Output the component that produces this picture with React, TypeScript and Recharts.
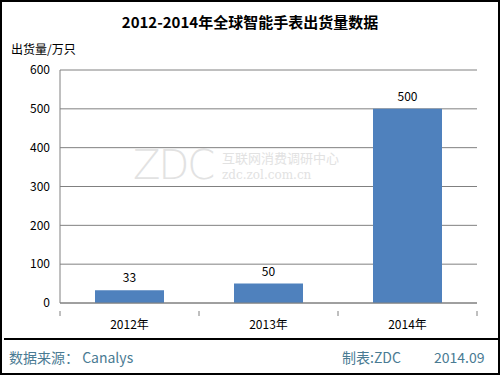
import { Bar, BarChart, CartesianGrid, LabelList, XAxis, YAxis } from 'recharts'

const years = ['2012年', '2013年', '2014年']
const shipments = [33, 50, 500]
const yTicks = [0, 100, 200, 300, 400, 500, 600]

const chartData = years.map((year, i) => ({ year, value: shipments[i] }))

const FONT = "'Noto Sans CJK SC', 'DejaVu Sans', sans-serif"
const FOOT = '#4a7b93'

function YearTick(props: any) {
  const { x, y, payload, index, visibleTicksCount, width } = props
  const half = width / visibleTicksCount / 2
  return (
    <g>
      <line x1={x - half} x2={x - half} y1={y} y2={y + 5} stroke="#808080" />
      {index === visibleTicksCount - 1 && (
        <line x1={x + half} x2={x + half} y1={y} y2={y + 5} stroke="#808080" />
      )}
      <text x={x} y={y + 18} textAnchor="middle" fontSize={12} fill="#000" fontFamily={FONT}>
        {payload.value}
      </text>
    </g>
  )
}

export default function App() {
  return (
    <div
      style={{
        position: 'fixed',
        left: 0,
        top: 0,
        width: 500,
        height: 375,
        boxSizing: 'border-box',
        border: '2px solid #000',
        background: '#fff',
        fontFamily: FONT,
        overflow: 'hidden',
      }}
    >
      <div
        style={{
          position: 'absolute',
          top: 9,
          left: 0,
          width: 496,
          textAlign: 'center',
          fontSize: 15,
          fontWeight: 'bold',
          color: '#000',
        }}
      >
        2012-2014年全球智能手表出货量数据
      </div>
      <div style={{ position: 'absolute', top: 38, left: 9, fontSize: 12, color: '#000' }}>
        出货量/万只
      </div>

      {/* watermark */}
      <div style={{ position: 'absolute', left: 131, top: 140, fontSize: 40, color: '#e2e2e2', fontFamily: 'DejaVu Sans', fontWeight: 200, letterSpacing: -2 }}>
        ZDC
      </div>
      <div style={{ position: 'absolute', left: 220, top: 148, fontSize: 13, color: '#e2e2e2', lineHeight: '16px' }}>
        互联网消费调研中心
        <br />
        <span style={{ fontFamily: 'DejaVu Serif', fontSize: 12 }}>zdc.zol.com.cn</span>
      </div>

      <div style={{ position: 'absolute', left: 0, top: 0 }}>
        <BarChart
          width={496}
          height={371}
          data={chartData}
          margin={{ top: 68, right: 21, left: 0, bottom: 40 }}
        >
          <CartesianGrid vertical={false} stroke="#808080" />
          <XAxis
            dataKey="year"
            height={30}
            axisLine={{ stroke: '#808080' }}
            tickLine={false}
            interval={0}
            tick={<YearTick />}
          />
          <YAxis
            width={58}
            domain={[0, 600]}
            ticks={yTicks}
            axisLine={{ stroke: '#808080' }}
            tickLine={false}
            tickMargin={4}
            tick={{ fill: '#000', fontSize: 12, fontFamily: FONT }}
          />
          <YAxis
            yAxisId="right"
            orientation="right"
            width={0}
            domain={[0, 600]}
            axisLine={{ stroke: '#808080' }}
            tickLine={false}
            tick={false}
          />
          <Bar dataKey="value" fill="#4f81bd" barSize={69} isAnimationActive={false}>
            <LabelList
              dataKey="value"
              position="top"
              offset={8}
              fill="#000"
              fontSize={12}
              fontFamily={FONT}
            />
          </Bar>
        </BarChart>
      </div>

      <div style={{ position: 'absolute', left: 2, right: 0, top: 336, borderTop: '2px solid #000' }} />
      <div style={{ position: 'absolute', left: 7, top: 345, fontSize: 14, color: FOOT }}>
        数据来源： Canalys
      </div>
      <div style={{ position: 'absolute', left: 340, top: 345, fontSize: 14, color: FOOT }}>
        制表:ZDC
      </div>
      <div style={{ position: 'absolute', left: 432, top: 345, fontSize: 14, color: FOOT }}>
        2014.09
      </div>
    </div>
  )
}
